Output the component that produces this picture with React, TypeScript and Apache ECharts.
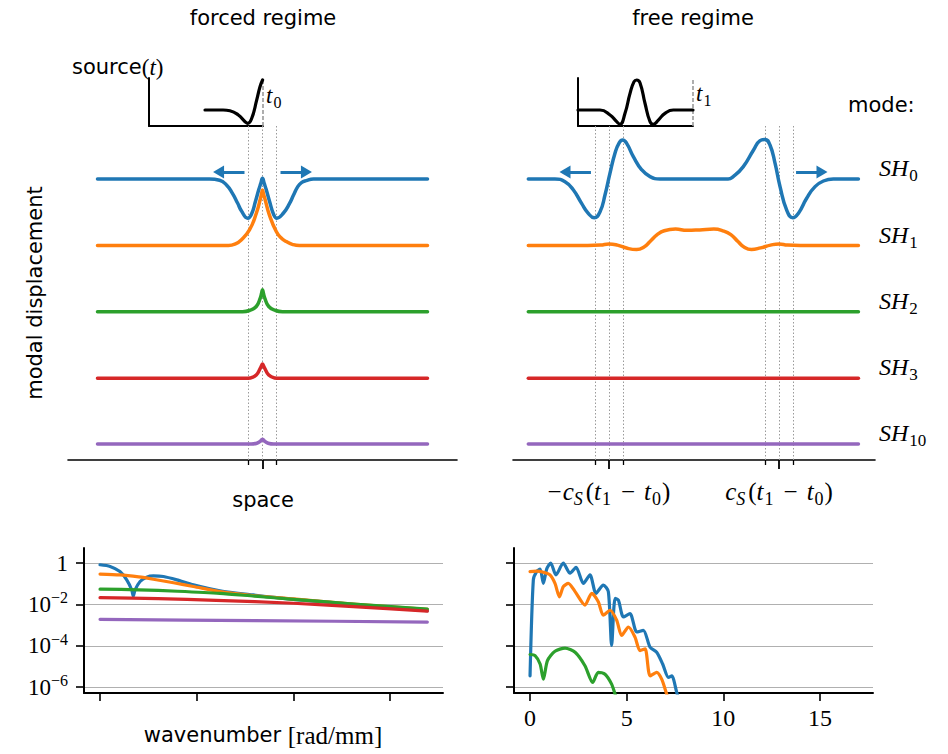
import React, { useEffect, useRef } from 'react';
import * as echarts from 'echarts';

type P = [number, number];

// ---------------- data ----------------
const MODE_LABELS = ['0', '1', '2', '3', '10'];
const MODE_COLORS = ['#1f77b4', '#ff7f0e', '#2ca02c', '#d62728', '#9467bd'];

// forced regime: [space, modal displacement]
const FORCED_SH0: P[] = [[-11.64, 0], [-3.74, 0], [-3.03, -0.03], [-2.54, -0.15], [-2.12, -0.36], [-1.76, -0.6], [-1.48, -0.8], [-1.04, -0.98], [-0.78, -0.88], [-0.49, -0.55], [-0.25, -0.25], [-0.12, -0.11], [0, 0.02], [0.12, -0.11], [0.25, -0.25], [0.49, -0.55], [0.78, -0.88], [1.01, -0.98], [1.48, -0.85], [1.91, -0.61], [2.19, -0.4], [2.49, -0.19], [2.75, -0.09], [3.08, -0.04], [3.6, 0], [11.64, 0]];
const FORCED_SH1: P[] = [[-11.64, 0], [-2.4, 0], [-1.91, 0.04], [-1.5, 0.14], [-0.92, 0.39], [-0.44, 0.8], [-0.14, 1.18], [-0.06, 1.3], [0, 1.39], [0.06, 1.3], [0.16, 1.18], [0.49, 0.76], [0.97, 0.35], [1.34, 0.18], [1.67, 0.1], [2.1, 0.03], [2.6, 0], [11.64, 0]];
const FORCED_SH2: P[] = [[-11.64, 0], [-1.41, 0], [-0.92, 0.03], [-0.44, 0.13], [-0.16, 0.34], [-0.06, 0.47], [0, 0.55], [0.06, 0.47], [0.16, 0.34], [0.44, 0.13], [0.92, 0.03], [1.41, 0], [11.64, 0]];
const FORCED_SH3: P[] = [[-11.64, 0], [-1.2, 0], [-0.85, 0.01], [-0.44, 0.08], [-0.16, 0.25], [-0.06, 0.32], [0, 0.36], [0.06, 0.32], [0.16, 0.25], [0.44, 0.08], [0.85, 0.01], [1.2, 0], [11.64, 0]];
const FORCED_SH10: P[] = [[-11.64, 0], [-0.8, 0], [-0.4, 0.02], [-0.15, 0.07], [0, 0.12], [0.15, 0.07], [0.4, 0.02], [0.8, 0], [11.64, 0]];

// free regime
const FREE_SH0: P[] = [[-11.69, 0], [-9.81, 0], [-9.1, -0.07], [-8.52, -0.27], [-7.93, -0.61], [-7.46, -0.86], [-7.04, -0.97], [-6.63, -0.82], [-6.28, -0.4], [-5.93, 0.14], [-5.58, 0.64], [-5.27, 0.91], [-5.03, 0.975], [-4.75, 0.89], [-4.28, 0.56], [-3.69, 0.23], [-3.1, 0.06], [-2.4, 0], [2.4, 0], [2.77, 0.06], [3.48, 0.31], [4.19, 0.72], [4.66, 0.96], [5.01, 0.99], [5.36, 0.85], [5.72, 0.39], [6.07, -0.19], [6.54, -0.78], [6.97, -0.97], [7.36, -0.86], [7.95, -0.48], [8.54, -0.19], [9.13, -0.05], [9.83, 0], [11.6, 0]];
const FREE_SH1: P[] = [[-11.69, 0], [-7.5, 0], [-6.6, 0.01], [-6.0, 0.04], [-5.4, 0.01], [-4.7, -0.07], [-4.05, -0.1], [-3.5, -0.03], [-3.1, 0.1], [-2.6, 0.27], [-2.1, 0.37], [-1.3, 0.41], [-0.5, 0.38], [0.4, 0.39], [1.4, 0.41], [2.1, 0.36], [2.6, 0.27], [3.1, 0.1], [3.5, -0.03], [4.05, -0.1], [4.7, -0.06], [5.4, 0.01], [6.0, 0.04], [6.6, 0.01], [7.5, 0], [11.6, 0]];
const FREE_SH2: P[] = [[-11.69, 0], [11.6, 0]];
const FREE_SH3: P[] = [[-11.69, 0], [11.6, 0]];
const FREE_SH10: P[] = [[-11.69, 0], [11.6, 0]];

// source wavelets: [time, amplitude]
const SOURCE_FORCED: P[] = [[3.93, 0], [5.2, 0], [5.68, -0.05], [6.27, -0.33], [6.74, -0.78], [6.93, -0.89], [7.21, -0.55], [7.56, 0.67], [7.79, 1.55], [7.97, 2.0]];
const SOURCE_FREE: P[] = [[0, 0], [1.53, 0], [2.23, -0.33], [2.69, -0.78], [2.92, -0.95], [3.27, -0.22], [3.62, 1.11], [3.9, 1.89], [4.08, 2.0], [4.31, 1.82], [4.66, 0.45], [5.01, -0.78], [5.24, -0.95], [5.59, -0.67], [6.05, -0.22], [6.63, 0], [8, 0]];

// spectra: [wavenumber, log10 amplitude]
const SPEC_FORCED_SH0: P[] = [[0, -0.08], [0.52, -0.16], [1.03, -0.41], [1.38, -0.81], [1.64, -1.3], [1.72, -1.6], [1.81, -1.3], [2.07, -0.89], [2.41, -0.68], [2.76, -0.62], [3.28, -0.65], [3.97, -0.81], [4.83, -1.05], [6.2, -1.34], [7.93, -1.54], [10, -1.75], [13.1, -2.0], [16.93, -2.3]];
const SPEC_FORCED_SH1: P[] = [[0, -0.53], [1.03, -0.57], [2, -0.67], [2.76, -0.78], [3.8, -0.95], [4.83, -1.13], [6.2, -1.38], [8, -1.58], [10, -1.73], [13.1, -1.98], [16.93, -2.23]];
const SPEC_FORCED_SH2: P[] = [[0, -1.26], [2, -1.29], [4, -1.36], [6.2, -1.46], [8, -1.6], [10, -1.75], [13.1, -1.98], [16.93, -2.22]];
const SPEC_FORCED_SH3: P[] = [[0, -1.67], [3, -1.72], [6, -1.8], [10, -1.94], [13.1, -2.1], [16.93, -2.32]];
const SPEC_FORCED_SH10: P[] = [[0, -2.72], [8, -2.78], [16.93, -2.85]];

const SPEC_FREE_SH0: P[] = [[0, -5.45], [0.17, -0.81], [0.34, -0.41], [0.52, -0.29], [0.69, -0.98], [0.86, -0.29], [1.07, 0], [1.34, -0.57], [1.72, 0], [2.07, -0.49], [2.38, -0.2], [2.76, -0.98], [3.1, -0.57], [3.41, -1.46], [3.79, -1.06], [4.05, -1.38], [4.22, -3.98], [4.4, -1.71], [4.57, -1.79], [4.83, -2.6], [5.17, -2.44], [5.52, -3.33], [5.86, -3.25], [6.21, -4.07], [6.55, -4.31], [6.86, -4.88], [7.16, -5.53], [7.33, -5.45], [7.59, -6.26], [7.76, -6.83]];
const SPEC_FREE_SH1: P[] = [[0, -0.41], [0.34, -0.39], [0.69, -0.44], [1.03, -0.57], [1.29, -0.98], [1.52, -1.63], [1.72, -1.14], [1.98, -0.98], [2.33, -1.38], [2.84, -2.03], [3.19, -1.46], [3.53, -1.87], [3.79, -2.52], [4.14, -2.28], [4.48, -2.76], [4.74, -3.5], [5.09, -3.09], [5.43, -3.58], [5.69, -4.23], [5.95, -4.15], [6.21, -5.45], [6.55, -5.28], [6.81, -5.61], [7.07, -6.34], [7.24, -6.83]];
const SPEC_FREE_SH2: P[] = [[0, -4.42], [0.26, -4.47], [0.52, -4.88], [0.69, -5.61], [0.9, -4.72], [1.29, -4.26], [1.81, -4.11], [2.33, -4.31], [2.84, -4.96], [3.24, -5.77], [3.53, -5.28], [3.88, -5.37], [4.22, -5.85], [4.4, -6.34], [4.57, -6.83]];

// ticks / annotations
const FORCED_TICKS_MINOR = [-1, 1];
const FORCED_TICKS_MAJOR = [0];
const FREE_TICKS_MINOR = [-7, -5, 5, 7];
const FREE_TICKS_MAJOR = [-6, 6];
const K_TICKS = [0, 5, 10, 15];
const LOG_TICKS = [1e-6, 1e-4, 1e-2, 1];
const FORCED_ARROWS: P[] = [[-1.27, -3.1], [1.27, 3.1]];
const FREE_ARROWS: P[] = [[-7.27, -9.1], [7.2, 9.03]];
const ARROW_LEVEL = 0.175;
const SOURCE_END = 8;

// ---------------- layout / style ----------------
const SANS = "'DejaVu Sans', sans-serif";
const SERIF = "'Liberation Serif', 'DejaVu Serif', serif";
const SANS_SIZE = 21;
const MODE_BASE = [179, 245.5, 311.7, 378.3, 444];
const PANEL_L = { left: 68, width: 389, half: 13.72 };
const PANEL_R = { left: 513, width: 362, half: 12.77 };
const AX_TOP = 126;
const AX_BOTTOM = 460;
const PXU = 40;

function richSet(size: number, useFill: boolean) {
  const col = useFill ? { fill: '#000' } : { color: '#000' };
  const sub = Math.round(size * 0.7);
  const lh = size + 8;
  return {
    s: { fontFamily: SANS, fontSize: SANS_SIZE, lineHeight: lh, ...col },
    r: { fontFamily: SERIF, fontSize: size, lineHeight: lh, ...col },
    op: { fontFamily: SERIF, fontSize: size, lineHeight: lh, padding: [0, 9, 0, 9], ...col },
    lop: { fontFamily: SERIF, fontSize: size, lineHeight: lh, padding: [0, 1, 0, 0], ...col },
    i: { fontFamily: SERIF, fontStyle: 'italic', fontSize: size, lineHeight: lh, ...col },
    sr: { fontFamily: SERIF, fontSize: sub, lineHeight: sub, verticalAlign: 'bottom', padding: [0, 1, 0, 1], ...col },
    si: { fontFamily: SERIF, fontStyle: 'italic', fontSize: sub, lineHeight: sub, verticalAlign: 'bottom', padding: [0, 3, 0, 0], ...col },
    p: { fontFamily: SERIF, fontSize: sub, lineHeight: sub, verticalAlign: 'top', ...col },
  };
}

function buildOption() {
  const grids: any[] = [];
  const xAxes: any[] = [];
  const yAxes: any[] = [];
  const series: any[] = [];
  const add = (g: any, x: any, y: any) => {
    grids.push({ ...g, containLabel: false, outerBoundsMode: 'none' });
    const idx = grids.length - 1;
    xAxes.push({ type: 'value', splitLine: { show: false }, ...x, gridIndex: idx });
    yAxes.push({ type: 'value', splitLine: { show: false }, ...y, gridIndex: idx });
    return idx;
  };
  const hidden = { show: false };
  const lineSeries = (idx: number, data: any[], color: string, width: number, smooth: number, extra: any = {}) => ({
    type: 'line', xAxisIndex: idx, yAxisIndex: idx, data, showSymbol: false, symbol: 'none', smooth,
    lineStyle: { color, width, cap: 'round', join: 'round' }, silent: true, z: 3, clip: true, ...extra,
  });

  const panel = (
    P: { left: number; width: number; half: number },
    modes: P[][], minor: number[], major: number[], arrows: P[], withLabels: boolean,
  ) => {
    const xBase = { min: -P.half, max: P.half };
    // axis grid (carries the SH10 curve and the dotted guides)
    const ax = add(
      { left: P.left, top: AX_TOP, width: P.width, height: AX_BOTTOM - AX_TOP },
      {
        ...xBase,
        axisLine: { show: true, onZero: false, lineStyle: { color: '#000', width: 1.6 } },
        axisTick: { show: true, customValues: minor, length: 5, lineStyle: { color: '#000', width: 1.3 } },
        axisLabel: { show: false },
      },
      { min: -(AX_BOTTOM - MODE_BASE[4]) / PXU, max: (MODE_BASE[4] - AX_TOP) / PXU, ...hidden },
    );
    series.push(lineSeries(ax, modes[4], MODE_COLORS[4], 3.5, 0.5, {
      markLine: {
        silent: true, symbol: 'none', z: 1, animation: false,
        label: { show: false },
        lineStyle: { type: [1.5, 2], color: '#9a9a9a', width: 1 },
        data: [...minor, ...major].map((v) => ({ xAxis: v })),
      },
    }));
    // longer ticks (and labels) at the main positions
    add(
      { left: P.left, top: AX_TOP, width: P.width, height: AX_BOTTOM - AX_TOP },
      {
        ...xBase,
        axisLine: { show: false, onZero: false },
        axisTick: { show: true, customValues: major, length: 9, lineStyle: { color: '#000', width: 1.8 } },
        axisLabel: withLabels
          ? {
              show: true, customValues: major, margin: 15,
              formatter: (v: number) => `${v < 0 ? '{lop|−}' : ''}{i|c}{si|S}{r|(}{i|t}{sr|1}{op|−}{i|t}{sr|0}{r|)}`,
              rich: richSet(25, false),
            }
          : { show: false },
      },
      { min: 0, max: 1, ...hidden },
    );
    for (let m = 0; m < 4; m++) {
      const g = add(
        { left: P.left, width: P.width, top: MODE_BASE[m] - 60, height: 120 },
        { ...xBase, ...hidden },
        { min: -60 / PXU, max: 60 / PXU, ...hidden },
      );
      const extra: any = {};
      if (m === 0) {
        extra.markLine = {
          silent: true, animation: false, symbol: ['none', 'triangle'], symbolSize: [13, 11],
          label: { show: false },
          lineStyle: { type: 'solid', color: MODE_COLORS[0], width: 3 },
          itemStyle: { color: MODE_COLORS[0] },
          data: arrows.map(([a, b]) => [{ coord: [a, ARROW_LEVEL] }, { coord: [b, ARROW_LEVEL] }]),
        };
      }
      series.push(lineSeries(g, modes[m], MODE_COLORS[m], 3.5, 0.5, extra));
    }
  };

  panel(PANEL_L, [FORCED_SH0, FORCED_SH1, FORCED_SH2, FORCED_SH3, FORCED_SH10], FORCED_TICKS_MINOR, FORCED_TICKS_MAJOR, FORCED_ARROWS, false);
  panel(PANEL_R, [FREE_SH0, FREE_SH1, FREE_SH2, FREE_SH3, FREE_SH10], FREE_TICKS_MINOR, FREE_TICKS_MAJOR, FREE_ARROWS, true);

  // source insets
  const inset = (left: number, width: number, data: P[]) => {
    const g = add(
      { left, top: 78, width, height: 48 },
      { min: 0, max: SOURCE_END, axisLine: { show: true, onZero: false, lineStyle: { color: '#000', width: 2 } }, axisTick: { show: false }, axisLabel: { show: false } },
      { min: -16 / 15, max: 32 / 15, axisLine: { show: true, onZero: false, lineStyle: { color: '#000', width: 2 } }, axisTick: { show: false }, axisLabel: { show: false } },
    );
    series.push(lineSeries(g, data, '#000', 3.2, 0.5, {
      markLine: {
        silent: true, animation: false, symbol: 'none', z: 1,
        label: { show: false },
        lineStyle: { type: [4, 2], color: '#9a9a9a', width: 1.6 },
        data: [{ xAxis: SOURCE_END }],
      },
    }));
  };
  inset(149, 114, SOURCE_FORCED);
  inset(578, 115, SOURCE_FREE);

  // spectra
  const logLabelFmt = (v: number) => {
    const e = Math.round(Math.log10(v));
    return e === 0 ? '{n|1}' : `{n|10}{p|−${-e}}`;
  };
  const spectra = (left: number, specs: P[][], showYLabels: boolean, showXLabels: boolean) => {
    const g = add(
      { left, top: 548, width: 359, height: 145 },
      {
        min: -0.83, max: 17.74,
        axisLine: { show: true, onZero: false, lineStyle: { color: '#000', width: 2 } },
        axisTick: { show: true, customValues: K_TICKS, length: 8, lineStyle: { color: '#000', width: 1.6 } },
        axisLabel: showXLabels
          ? { show: true, customValues: K_TICKS, margin: 13, fontFamily: SERIF, fontSize: 24, color: '#000' }
          : { show: false },
      },
      {
        type: 'log', logBase: 10, min: Math.pow(10, -6.28), max: Math.pow(10, 0.73),
        axisLine: { show: true, onZero: false, lineStyle: { color: '#000', width: 2 } },
        axisTick: { show: true, customValues: LOG_TICKS, length: 8, lineStyle: { color: '#000', width: 1.6 } },
        splitLine: { show: true, customValues: LOG_TICKS, lineStyle: { color: '#b0b0b0', width: 1.2, type: 'solid' } },
        axisLabel: showYLabels
          ? {
              show: true, customValues: LOG_TICKS, margin: 16, formatter: logLabelFmt,
              rich: {
                n: { fontFamily: SERIF, fontSize: 23, lineHeight: 29, color: '#000' },
                p: { fontFamily: SERIF, fontSize: 16, lineHeight: 16, verticalAlign: 'top', color: '#000' },
              },
            }
          : { show: false },
      },
    );
    specs.forEach((s, i) => {
      series.push(lineSeries(g, s.map(([k, e]) => [k, Math.pow(10, e)]), MODE_COLORS[i], 3.2, 0.25));
    });
  };
  spectra(84, [SPEC_FORCED_SH0, SPEC_FORCED_SH1, SPEC_FORCED_SH2, SPEC_FORCED_SH3, SPEC_FORCED_SH10], true, false);
  spectra(514, [SPEC_FREE_SH0, SPEC_FREE_SH1, SPEC_FREE_SH2], false, true);

  // texts
  const RT = richSet(23, true);
  const RT_SH = richSet(24, true);
  const txt = (x: number, y: number, text: string, align: string, extra: any = {}, rich: any = RT) => ({
    type: 'text', x, y, silent: true, ...extra,
    style: { text, rich, align, verticalAlign: 'middle', fill: '#000', fontFamily: SANS, fontSize: SANS_SIZE },
  });
  const elements: any[] = [
    txt(263, 18, 'forced regime', 'center'),
    txt(693, 18, 'free regime', 'center'),
    txt(263, 500, 'space', 'center'),
    txt(263, 735, '{s|wavenumber }{r|[rad/mm]}', 'center', {}, richSet(25, true)),
    txt(35, 293, 'modal displacement', 'center', { rotation: Math.PI / 2 }),
    txt(72, 67, '{s|source}{r|(}{i|t}{r|)}', 'left'),
    txt(266, 95, '{i|t}{sr|0}', 'left'),
    txt(696, 93, '{i|t}{sr|1}', 'left'),
    txt(848, 105, 'mode:', 'left'),
    ...MODE_LABELS.map((l, m) => txt(879, MODE_BASE[m] - 11, `{i|SH}{sr|${l}}`, 'left', {}, RT_SH)),
  ];

  return {
    animation: false,
    backgroundColor: '#ffffff',
    grid: grids,
    xAxis: xAxes,
    yAxis: yAxes,
    series,
    graphic: { elements },
  };
}

export default function App() {
  const ref = useRef<HTMLDivElement>(null);
  useEffect(() => {
    if (!ref.current) return;
    const chart = echarts.init(ref.current, undefined, { renderer: 'svg' });
    chart.setOption(buildOption() as any);
    return () => chart.dispose();
  }, []);
  return <div ref={ref} style={{ position: 'fixed', left: 0, top: 0, width: 948, height: 754, background: '#fff' }} />;
}
